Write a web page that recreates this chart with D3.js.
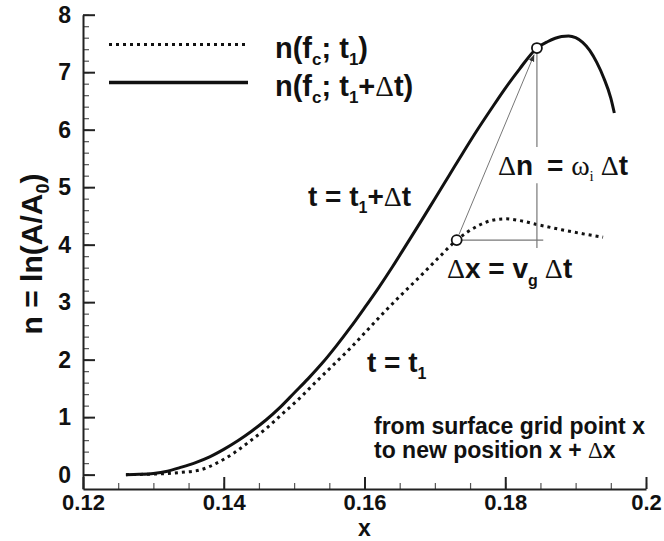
<!DOCTYPE html>
<html>
<head>
<meta charset="utf-8">
<script src="https://cdn.jsdelivr.net/npm/d3@7"></script>
<style>
  body { margin: 0; background: #fff; }
  text { font-family: "Liberation Sans", Arial, sans-serif; font-weight: bold; fill: #111; }
  .serif { font-family: "Liberation Serif", "Times New Roman", serif; font-weight: normal; }
  .axis path, .axis line { stroke: #222; stroke-width: 2; }
  .minor line { stroke: #555; stroke-width: 1.2; }
</style>
</head>
<body>
<div id="chart"></div>
<script>
// n(fc; t1 + dt) — solid curve
var solidX = [0.1261, 0.128, 0.130, 0.132, 0.134, 0.136, 0.138, 0.140, 0.142, 0.144, 0.146, 0.148,
              0.150, 0.152, 0.154, 0.156, 0.158, 0.160, 0.162, 0.164, 0.166, 0.168, 0.170, 0.172,
              0.174, 0.176, 0.178, 0.180, 0.182, 0.1845, 0.186, 0.188, 0.189, 0.190, 0.191, 0.192,
              0.193, 0.194, 0.195, 0.1955];
var solidY = [0, 0.005, 0.02, 0.06, 0.13, 0.21, 0.31, 0.44, 0.59, 0.76, 0.95, 1.17,
              1.42, 1.67, 1.94, 2.24, 2.56, 2.9, 3.25, 3.62, 4.01, 4.4, 4.8, 5.2,
              5.6, 5.99, 6.36, 6.72, 7.05, 7.42, 7.53, 7.62, 7.63, 7.6, 7.52, 7.38,
              7.17, 6.9, 6.55, 6.29];

// n(fc; t1) — dotted curve
var dashedX = [0.1261, 0.130, 0.132, 0.134, 0.1366, 0.139, 0.1415, 0.1437, 0.146, 0.148, 0.1508,
               0.153, 0.1555, 0.158, 0.1603, 0.1626, 0.165, 0.168, 0.1705, 0.1731, 0.176, 0.178,
               0.1801, 0.182, 0.1849, 0.188, 0.191, 0.1939];
var dashedY = [0, 0.01, 0.02, 0.04, 0.08, 0.2, 0.38, 0.58, 0.8, 1.02, 1.33,
               1.6, 1.9, 2.2, 2.5, 2.8, 3.1, 3.46, 3.77, 4.08, 4.32, 4.42,
               4.45, 4.42, 4.34, 4.26, 4.19, 4.13];

// the two marked points (old position -> new position)
var markX = [0.1731, 0.1845];
var markY = [4.08, 7.42];

var xTicks = [0.12, 0.14, 0.16, 0.18, 0.2];
var xTickLabels = ['0.12', '0.14', '0.16', '0.18', '0.2'];
var yTicks = [0, 1, 2, 3, 4, 5, 6, 7, 8];
var xMinor = d3.range(0, 17).map(function(i) { return +(0.12 + i * 0.005).toFixed(3); });
var yMinor = d3.range(0, 41).map(function(i) { return +(i * 0.2).toFixed(1); });

var width = 664, height = 541;

var x = d3.scaleLinear().domain([0.12, 0.2]).range([83, 646]),
    y = d3.scaleLinear().domain([-0.25, 8]).range([489, 14.7]);

var svg = d3.select('#chart').append('svg')
  .attr('width', width)
  .attr('height', height);

// minor ticks
svg.append('g')
  .attr('class', 'minor')
  .attr('transform', 'translate(0,' + y(-0.25) + ')')
  .call(d3.axisBottom(x).tickValues(xMinor).tickSizeInner(-6).tickSizeOuter(0).tickFormat(''))
  .select('.domain').remove();
svg.append('g')
  .attr('class', 'minor')
  .attr('transform', 'translate(' + x(0.12) + ',0)')
  .call(d3.axisLeft(y).tickValues(yMinor).tickSizeInner(-6).tickSizeOuter(0).tickFormat(''))
  .select('.domain').remove();

// major axes
var xAxisG = svg.append('g')
  .attr('class', 'axis')
  .attr('transform', 'translate(0,' + y(-0.25) + ')')
  .call(d3.axisBottom(x).tickValues(xTicks).tickSizeInner(-12).tickSizeOuter(0).tickPadding(5)
    .tickFormat(function(d, i) { return xTickLabels[i]; }));
var yAxisG = svg.append('g')
  .attr('class', 'axis')
  .attr('transform', 'translate(' + x(0.12) + ',0)')
  .call(d3.axisLeft(y).tickValues(yTicks).tickSizeInner(-12).tickSizeOuter(0).tickPadding(12));
svg.selectAll('.axis text')
  .style('font-family', '"Liberation Sans", Arial, sans-serif')
  .style('font-weight', 'bold')
  .attr('fill', '#111');
xAxisG.selectAll('text').style('font-size', '22px');
yAxisG.selectAll('text').style('font-size', '23px');

// axis titles
svg.append('text')
  .attr('x', x(0.16))
  .attr('y', 536)
  .attr('text-anchor', 'middle')
  .style('font-size', '23px')
  .text('x');

var yTitle = svg.append('text')
  .attr('transform', 'translate(42,254) rotate(-90)')
  .attr('text-anchor', 'middle')
  .style('font-size', '30px');
yTitle.append('tspan').text('n = ln(A/A');
yTitle.append('tspan').attr('dy', 7).style('font-size', '18px').text('0');
yTitle.append('tspan').attr('dy', -7).text(')');

// curves
var line = d3.line()
  .x(function(d) { return x(d[0]); })
  .y(function(d) { return y(d[1]); })
  .curve(d3.curveMonotoneX);

svg.append('path')
  .datum(d3.zip(dashedX, dashedY))
  .attr('d', line)
  .attr('fill', 'none')
  .attr('stroke', '#111')
  .attr('stroke-width', 3)
  .attr('stroke-dasharray', '3,4');

svg.append('path')
  .datum(d3.zip(solidX, solidY))
  .attr('d', line)
  .attr('fill', 'none')
  .attr('stroke', '#111')
  .attr('stroke-width', 3);

// construction lines
var p0 = [x(markX[0]), y(markY[0])],
    p1 = [x(markX[1]), y(markY[1])];

svg.append('defs').append('marker')
  .attr('id', 'arrow')
  .attr('viewBox', '0 0 10 10')
  .attr('refX', 10).attr('refY', 5)
  .attr('markerWidth', 7).attr('markerHeight', 7)
  .attr('orient', 'auto')
  .append('path')
  .attr('d', 'M0,1L10,5L0,9Z')
  .attr('fill', '#333');

var ang = Math.atan2(p1[1] - p0[1], p1[0] - p0[0]);
svg.append('line')
  .attr('x1', p0[0] + 6 * Math.cos(ang)).attr('y1', p0[1] + 6 * Math.sin(ang))
  .attr('x2', p1[0] - 7 * Math.cos(ang)).attr('y2', p1[1] - 7 * Math.sin(ang))
  .attr('stroke', '#777').attr('stroke-width', 1)
  .attr('marker-end', 'url(#arrow)');

// horizontal dx line
svg.append('line')
  .attr('x1', p0[0]).attr('y1', p0[1])
  .attr('x2', x(0.1854)).attr('y2', p0[1])
  .attr('stroke', '#777').attr('stroke-width', 1.2);

// vertical dn line, broken around its label
svg.append('line')
  .attr('x1', p1[0]).attr('y1', p1[1])
  .attr('x2', p1[0]).attr('y2', y(5.7))
  .attr('stroke', '#777').attr('stroke-width', 1.2);
svg.append('line')
  .attr('x1', p1[0]).attr('y1', y(5.07))
  .attr('x2', p1[0]).attr('y2', y(3.94))
  .attr('stroke', '#777').attr('stroke-width', 1.2);

svg.selectAll('circle.mark')
  .data(d3.zip(markX, markY))
  .enter().append('circle')
  .attr('class', 'mark')
  .attr('cx', function(d) { return x(d[0]); })
  .attr('cy', function(d) { return y(d[1]); })
  .attr('r', 5)
  .attr('fill', '#fff')
  .attr('stroke', '#111')
  .attr('stroke-width', 1.8);

// legend
var legend = svg.append('g');
legend.append('line')
  .attr('x1', 109).attr('x2', 248).attr('y1', 44.5).attr('y2', 44.5)
  .attr('stroke', '#111').attr('stroke-width', 3).attr('stroke-dasharray', '3,4');
legend.append('line')
  .attr('x1', 109).attr('x2', 248).attr('y1', 82.5).attr('y2', 82.5)
  .attr('stroke', '#111').attr('stroke-width', 3.5);

var l1 = legend.append('text').attr('x', 275).attr('y', 58).style('font-size', '29px');
l1.append('tspan').text('n(f');
l1.append('tspan').attr('dy', 7).style('font-size', '17px').text('c');
l1.append('tspan').attr('dy', -7).text('; t');
l1.append('tspan').attr('dy', 7).style('font-size', '17px').text('1');
l1.append('tspan').attr('dy', -7).text(')');

var l2 = legend.append('text').attr('x', 275).attr('y', 96).style('font-size', '29px');
l2.append('tspan').text('n(f');
l2.append('tspan').attr('dy', 7).style('font-size', '17px').text('c');
l2.append('tspan').attr('dy', -7).text('; t');
l2.append('tspan').attr('dy', 7).style('font-size', '17px').text('1');
l2.append('tspan').attr('dy', -7).text('+');
l2.append('tspan').attr('class', 'serif').text('\u0394');
l2.append('tspan').text('t)');

// annotations
var a1 = svg.append('text').attr('x', 308).attr('y', 206).style('font-size', '28px');
a1.append('tspan').text('t = t');
a1.append('tspan').attr('dy', 7).style('font-size', '16px').text('1');
a1.append('tspan').attr('dy', -7).text('+');
a1.append('tspan').attr('class', 'serif').text('\u0394');
a1.append('tspan').text('t');

var a2 = svg.append('text').attr('x', 367).attr('y', 372).style('font-size', '28px');
a2.append('tspan').text('t = t');
a2.append('tspan').attr('dy', 7).style('font-size', '16px').text('1');

var a3 = svg.append('text').attr('x', 498).attr('y', 175).style('font-size', '28px');
a3.append('tspan').attr('class', 'serif').text('\u0394');
a3.append('tspan').text('n');
var a3b = svg.append('text').attr('x', 547).attr('y', 175).style('font-size', '28px');
a3b.append('tspan').text('= ');
a3b.append('tspan').attr('class', 'serif').text('\u03c9');
a3b.append('tspan').attr('dy', 6).attr('class', 'serif').style('font-size', '15px').text('i');
a3b.append('tspan').attr('dy', -6).attr('class', 'serif').text(' \u0394');
a3b.append('tspan').text('t');

var a4 = svg.append('text').attr('x', 447).attr('y', 278).style('font-size', '28px');
a4.append('tspan').attr('class', 'serif').text('\u0394');
a4.append('tspan').text('x = v');
a4.append('tspan').attr('dy', 8).style('font-size', '16px').text('g');
a4.append('tspan').attr('dy', -8).attr('class', 'serif').text(' \u0394');
a4.append('tspan').text('t');

svg.append('text').attr('x', 374).attr('y', 434).style('font-size', '23px')
  .text('from surface grid point x');
var a6 = svg.append('text').attr('x', 374).attr('y', 458).style('font-size', '23px');
a6.append('tspan').text('to new position x + ');
a6.append('tspan').attr('class', 'serif').text('\u0394');
a6.append('tspan').text('x');
</script>
</body>
</html>
